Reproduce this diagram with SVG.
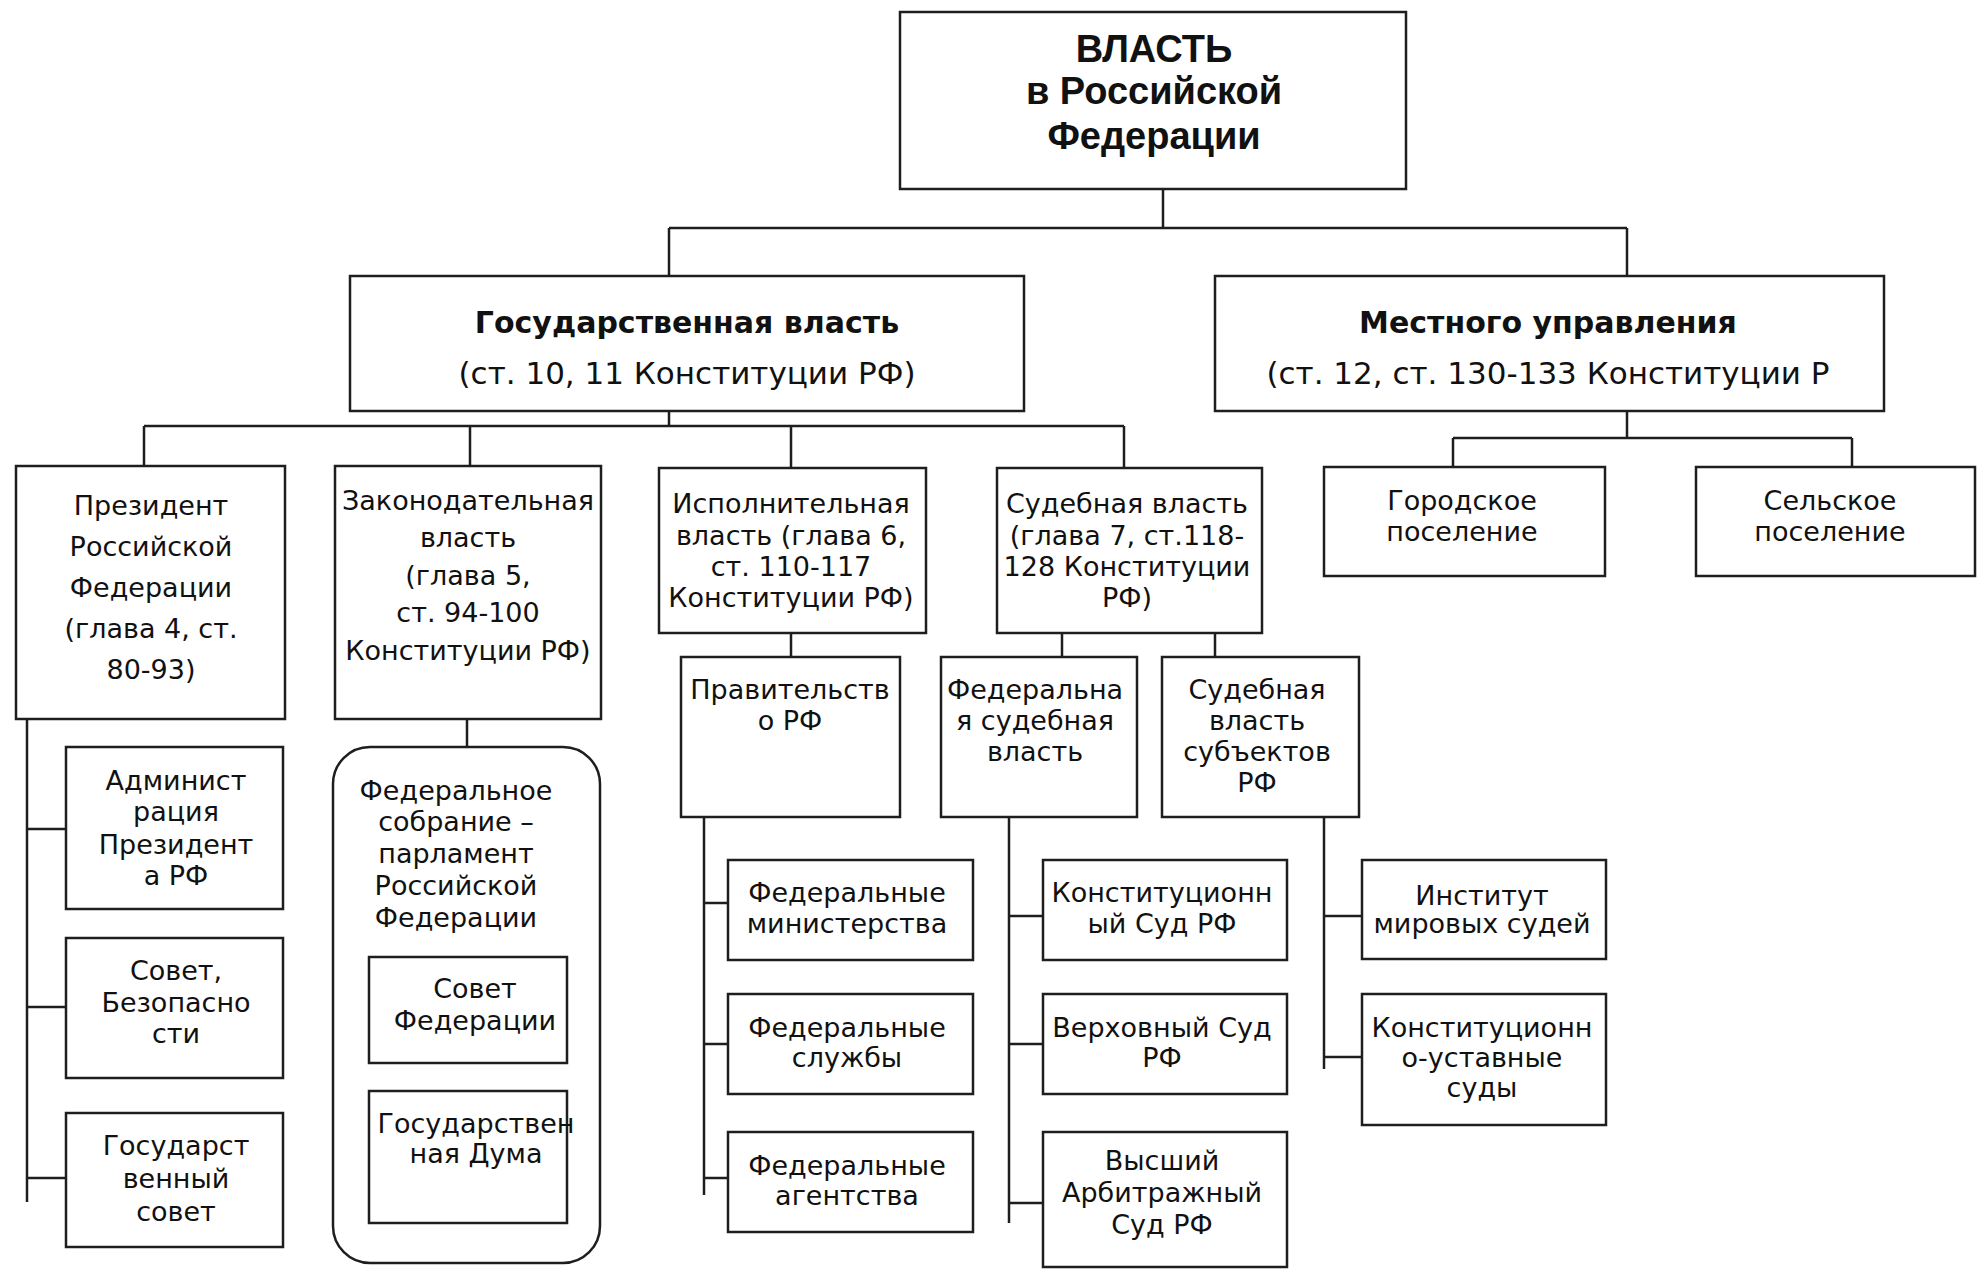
<svg xmlns="http://www.w3.org/2000/svg" width="1977" height="1271" viewBox="0 0 1977 1271">
<style>
.box{fill:#fff;stroke:#1e1e1e;stroke-width:2.5}
.ln{fill:none;stroke:#1e1e1e;stroke-width:2.5}
text{font-family:"DejaVu Sans","Liberation Sans",sans-serif;font-size:27px;fill:#111;text-anchor:middle}
.title{font-family:"Liberation Sans","DejaVu Sans",sans-serif;font-size:38px;font-weight:bold}
.h{font-size:30px;font-weight:bold}
.s{font-size:31px}
</style>
<rect width="1977" height="1271" fill="#fff"/>
<g id="connectors">
<path class="ln" d="M1163 189V228M669 228H1627M669 228V276M1627 228V276"/>
<path class="ln" d="M669 403V426M144 426H1124M144 426V466M470 426V466M791 426V468M1124 426V468"/>
<path class="ln" d="M1627 405V438M1453 438H1852M1453 438V467M1852 438V467"/>
<path class="ln" d="M27 708V1202M27 829H66M27 1007H66M27 1178H66"/>
<path class="ln" d="M467 719V747"/>
<path class="ln" d="M791 633V657M1062 633V657M1215 633V657"/>
<path class="ln" d="M704 808V1195M704 903H728M704 1044H728M704 1178H728"/>
<path class="ln" d="M1009 808V1223M1009 916H1043M1009 1044H1043M1009 1203H1043"/>
<path class="ln" d="M1324 808V1069M1324 916H1362M1324 1057H1362"/>
</g>
<g id="root"><rect class="box" x="900" y="12" width="506" height="177"/>
<text class="title" x="1154" y="62">ВЛАСТЬ</text><text class="title" x="1154" y="104">в Российской</text><text class="title" x="1154" y="149">Федерации</text></g>
<g id="gos"><rect class="box" x="350" y="276" width="674" height="135"/>
<text class="h" x="687" y="333">Государственная власть</text><text class="s" x="687" y="384">(ст. 10, 11 Конституции РФ)</text></g>
<g id="mest"><rect class="box" x="1215" y="276" width="669" height="135"/>
<text class="h" x="1548" y="333">Местного управления</text><text class="s" x="1548" y="384">(ст. 12, ст. 130-133 Конституции Р</text></g>
<g id="pres"><rect class="box" x="16" y="466" width="269" height="253"/>
<text x="151" y="515">Президент</text><text x="151" y="556">Российской</text><text x="151" y="597">Федерации</text><text x="151" y="638">(глава 4, ст.</text><text x="151" y="679">80-93)</text></g>
<g id="zak"><rect class="box" x="335" y="466" width="266" height="253"/>
<text x="468" y="510">Законодательная</text><text x="468" y="547">власть</text><text x="468" y="585">(глава 5,</text><text x="468" y="622">ст. 94-100</text><text x="468" y="660">Конституции РФ)</text></g>
<g id="isp"><rect class="box" x="659" y="468" width="267" height="165"/>
<text x="791" y="513">Исполнительная</text><text x="791" y="545">власть (глава 6,</text><text x="791" y="576">ст. 110-117</text><text x="791" y="607">Конституции РФ)</text></g>
<g id="sud"><rect class="box" x="997" y="468" width="265" height="165"/>
<text x="1127" y="513">Судебная власть</text><text x="1127" y="545">(глава 7, ст.118-</text><text x="1127" y="576">128 Конституции</text><text x="1127" y="607">РФ)</text></g>
<g id="gor"><rect class="box" x="1324" y="467" width="281" height="109"/>
<text x="1462" y="510">Городское</text><text x="1462" y="541">поселение</text></g>
<g id="sel"><rect class="box" x="1696" y="467" width="279" height="109"/>
<text x="1830" y="510">Сельское</text><text x="1830" y="541">поселение</text></g>
<g id="prav"><rect class="box" x="681" y="657" width="219" height="160"/>
<text x="790" y="699">Правительств</text><text x="790" y="730">о РФ</text></g>
<g id="fedsud"><rect class="box" x="941" y="657" width="196" height="160"/>
<text x="1035" y="699">Федеральна</text><text x="1035" y="730">я судебная</text><text x="1035" y="761">власть</text></g>
<g id="subsud"><rect class="box" x="1162" y="657" width="197" height="160"/>
<text x="1257" y="699">Судебная</text><text x="1257" y="730">власть</text><text x="1257" y="761">субъектов</text><text x="1257" y="792">РФ</text></g>
<g id="adm"><rect class="box" x="66" y="747" width="217" height="162"/>
<text x="176" y="790">Админист</text><text x="176" y="821">рация</text><text x="176" y="854">Президент</text><text x="176" y="885">а РФ</text></g>
<g id="sovbez"><rect class="box" x="66" y="938" width="217" height="140"/>
<text x="176" y="980">Совет,</text><text x="176" y="1012">Безопасно</text><text x="176" y="1043">сти</text></g>
<g id="gossov"><rect class="box" x="66" y="1113" width="217" height="134"/>
<text x="176" y="1155">Государст</text><text x="176" y="1188">венный</text><text x="176" y="1221">совет</text></g>
<g id="fedsob"><rect class="box" x="333" y="747" width="267" height="516" rx="37" ry="37"/>
<text x="456" y="800">Федеральное</text><text x="456" y="831">собрание –</text><text x="456" y="863">парламент</text><text x="456" y="895">Российской</text><text x="456" y="927">Федерации</text></g>
<g id="sovfed"><rect class="box" x="369" y="957" width="198" height="106"/>
<text x="475" y="998">Совет</text><text x="475" y="1030">Федерации</text></g>
<g id="duma"><rect class="box" x="369" y="1091" width="198" height="132"/>
<text x="476" y="1133">Государствен</text><text x="476" y="1163">ная Дума</text></g>
<g id="fmin"><rect class="box" x="728" y="860" width="245" height="100"/>
<text x="847" y="902">Федеральные</text><text x="847" y="933">министерства</text></g>
<g id="fsl"><rect class="box" x="728" y="994" width="245" height="100"/>
<text x="847" y="1037">Федеральные</text><text x="847" y="1067">службы</text></g>
<g id="fag"><rect class="box" x="728" y="1132" width="245" height="100"/>
<text x="847" y="1175">Федеральные</text><text x="847" y="1205">агентства</text></g>
<g id="ks"><rect class="box" x="1043" y="860" width="244" height="100"/>
<text x="1162" y="902">Конституционн</text><text x="1162" y="933">ый Суд РФ</text></g>
<g id="vs"><rect class="box" x="1043" y="994" width="244" height="100"/>
<text x="1162" y="1037">Верховный Суд</text><text x="1162" y="1067">РФ</text></g>
<g id="vas"><rect class="box" x="1043" y="1132" width="244" height="135"/>
<text x="1162" y="1170">Высший</text><text x="1162" y="1202">Арбитражный</text><text x="1162" y="1234">Суд РФ</text></g>
<g id="mir"><rect class="box" x="1362" y="860" width="244" height="99"/>
<text x="1482" y="905">Институт</text><text x="1482" y="933">мировых судей</text></g>
<g id="kus"><rect class="box" x="1362" y="994" width="244" height="131"/>
<text x="1482" y="1037">Конституционн</text><text x="1482" y="1067">о-уставные</text><text x="1482" y="1097">суды</text></g>
</svg>
